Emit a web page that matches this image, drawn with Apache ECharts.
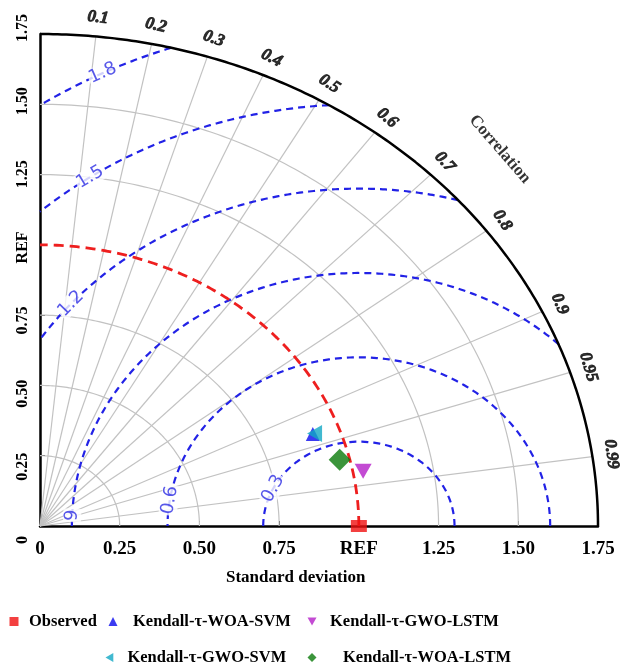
<!DOCTYPE html>
<html><head><meta charset="utf-8">
<script src="https://cdn.jsdelivr.net/npm/echarts@6/dist/echarts.min.js"></script>
<style>html,body{margin:0;padding:0;background:#fff}#c{width:626px;height:671px}</style>
</head><body><div id="c"></div>
<script>
// ---------------- data ----------------
const seriesNames = ['Observed', 'Kendall-τ-WOA-SVM', 'Kendall-τ-GWO-LSTM', 'Kendall-τ-GWO-SVM', 'Kendall-τ-WOA-LSTM'];
const stdValues  = [1.000, 0.916, 1.032, 0.922, 0.969];
const corrValues = [1.000, 0.934, 0.982, 0.934, 0.970];
const xTickLabels = ['0', '0.25', '0.50', '0.75', 'REF', '1.25', '1.50', '1.75'];
const yTickLabels = ['0', '0.25', '0.50', '0.75', 'REF', '1.25', '1.50', '1.75'];
const stdGridLevels = [0.25, 0.5, 0.75, 1.25, 1.5];
const refStd = 1.0;
const maxStd = 1.75;
const corrTicks = [0.1, 0.2, 0.3, 0.4, 0.5, 0.6, 0.7, 0.8, 0.9, 0.95, 0.99];
const corrTickLabels = ['0.1', '0.2', '0.3', '0.4', '0.5', '0.6', '0.7', '0.8', '0.9', '0.95', '0.99'];
const rmsLevels = [0.3, 0.6, 0.9, 1.2, 1.5, 1.8];
const rmsLabels = ['0.3', '0.6', '9', '1.2', '1.5', '1.8'];

// ---------------- style / layout ----------------
const G = {left: 40, top: 34, width: 558, height: 492};
const xPx = G.width / maxStd, yPx = G.height / maxStd;
const rmsLabelAngleDeg = [153.7, 171.2, 177.6, 138.8, 124.2, 116.5];
const corrLabelOffsetPx = 19;
const markerStyle = [
  {symbol: 'rect', size: [16, 12], color: '#f01010'},
  {symbol: 'triangle', size: 14, color: '#0a0aee'},
  {symbol: 'path://M0,0 L20,0 L10,17.3 Z', size: [17, 15], color: '#b41ec8'},
  {symbol: 'path://M0,10 L17.3,0 L17.3,20 Z', size: [15, 17], color: '#12a8c4'},
  {symbol: 'diamond', size: 22, color: '#0a7a0a'}
];
const legendPos = [
  {left: 9.5, top: 613, pad: 5.5},
  {left: 108.5, top: 613, pad: 10.5},
  {left: 307.5, top: 613, pad: 8.5},
  {left: 105.5, top: 649, pad: 8.5},
  {left: 307.5, top: 649, pad: 21.5}
];
const serif = 'Liberation Serif';

function arcPts(cx, cy, r, a0, a1, n) {
  const pts = [];
  for (let i = 0; i <= n; i++) {
    const a = a0 + (a1 - a0) * i / n;
    pts.push([cx + r * Math.cos(a), cy + r * Math.sin(a)]);
  }
  return pts;
}
function lineSeries(data, style, z) {
  return {type: 'line', data: data, showSymbol: false, symbol: 'none', silent: true,
    clip: false, lineStyle: style, z: z || 2, animation: false, xAxisIndex: 0, yAxisIndex: 0};
}

const series = [];
// std dev grid arcs
stdGridLevels.forEach(r => series.push(lineSeries(arcPts(0, 0, r, 0, Math.PI / 2, 120), {color: '#c2c2c2', width: 1.2}, 1)));
// correlation radial lines
corrTicks.forEach(c => {
  const s = Math.sqrt(1 - c * c);
  series.push(lineSeries([[0, 0], [maxStd * c, maxStd * s]], {color: '#c2c2c2', width: 1.2}, 1));
});
// RMS difference contours (centered on REF)
rmsLevels.forEach(rho => {
  let a0 = 0;
  if (refStd + rho > maxStd) {
    const xi = (maxStd * maxStd - rho * rho + refStd * refStd) / (2 * refStd);
    a0 = Math.acos((xi - refStd) / rho);
  }
  let a1 = Math.PI;
  if (rho > refStd) a1 = Math.acos(-refStd / rho);
  series.push(lineSeries(arcPts(refStd, 0, rho, a0, a1, 200), {color: '#2222e6', width: 2.2, type: [7, 5]}, 3));
});
// REF arc
series.push(lineSeries(arcPts(0, 0, refStd, 0, Math.PI / 2, 150), {color: '#ee1f1f', width: 2.8, type: [10, 6]}, 4));
// outer arc
series.push(lineSeries(arcPts(0, 0, maxStd, 0, Math.PI / 2, 200), {color: '#000', width: 2.5}, 5));

// RMS labels
series.push({
  type: 'scatter', silent: true, symbolSize: 0, z: 6, animation: false, clip: false,
  data: rmsLevels.map((rho, i) => {
    const a = rmsLabelAngleDeg[i] * Math.PI / 180;
    const rot = Math.atan2(-Math.cos(a) * yPx, Math.sin(a) * xPx) * 180 / Math.PI;
    return {value: [refStd + rho * Math.cos(a), rho * Math.sin(a)],
      label: {show: true, position: 'inside', formatter: rmsLabels[i], rotate: rot,
        color: '#2d2de4', fontSize: 18, fontFamily: 'DejaVu Sans', backgroundColor: '#fff', padding: [0, 1]}};
  })
});
// correlation labels + title
const corrLabelData = corrTicks.map((c, i) => {
  const s = Math.sqrt(1 - c * c);
  const px = maxStd * c * xPx, py = maxStd * s * yPx;
  const len = Math.hypot(px, py);
  const qx = px + corrLabelOffsetPx * px / len, qy = py + corrLabelOffsetPx * py / len;
  const rot = Math.atan2(py, px) * 180 / Math.PI - 90;
  return {value: [qx / xPx, qy / yPx], label: {show: true, position: 'inside', formatter: corrTickLabels[i], rotate: rot,
    fontStyle: 'italic', fontWeight: 700, fontSize: 17, fontFamily: serif, color: '#000',
    textBorderColor: '#000', textBorderWidth: 0.8}};
});
corrLabelData.push({value: [1.442, 1.340], label: {show: true, position: 'inside', formatter: 'Correlation', rotate: -49,
  fontWeight: 700, fontSize: 17, fontFamily: serif, color: '#000'}});
series.push({type: 'scatter', silent: true, symbolSize: 0, z: 6, animation: false, clip: false, data: corrLabelData});

// model markers
seriesNames.forEach((name, i) => {
  const m = markerStyle[i];
  const c = corrValues[i], s = stdValues[i];
  series.push({type: 'scatter', name: name, symbol: m.symbol, symbolSize: m.size,
    itemStyle: {color: m.color}, z: 8, clip: false, animation: false,
    data: [[s * c, s * Math.sqrt(1 - c * c)]]});
});

const legends = seriesNames.map((name, i) => ({
  data: [name], left: legendPos[i].left, top: legendPos[i].top,
  itemWidth: 9, itemHeight: 9,
  padding: 0, selectedMode: false,
  textStyle: {fontFamily: serif, fontWeight: 700, fontSize: 16.5, color: '#000', padding: [0, 0, 0, legendPos[i].pad]}
}));

const option = {
  backgroundColor: '#fff',
  animation: false,
  title: {text: 'Standard deviation', left: 226, top: 569, padding: 0,
    textStyle: {fontFamily: serif, fontWeight: 'bold', fontSize: 17, color: '#000'}},
  legend: legends,
  grid: [
    {left: G.left, top: G.top, width: G.width, height: G.height},
    {left: G.left, top: 28, width: G.width, height: 512}
  ],
  xAxis: [
    {type: 'value', gridIndex: 0, min: 0, max: maxStd, interval: 0.25,
      axisLine: {show: true, lineStyle: {color: '#000', width: 2.5}},
      axisTick: {show: true, inside: true, length: 5, lineStyle: {color: '#000', width: 1}}, splitLine: {show: false},
      axisLabel: {margin: 14, fontFamily: serif, fontWeight: 'bold', fontSize: 19, color: '#000',
        showMinLabel: true, showMaxLabel: true,
        formatter: v => xTickLabels[Math.round(v / 0.25)]}},
    {type: 'value', gridIndex: 1, min: 0, max: maxStd, show: false}
  ],
  yAxis: [
    {type: 'value', gridIndex: 0, min: 0, max: maxStd, interval: 0.25,
      axisLine: {show: true, lineStyle: {color: '#000', width: 2.5}},
      axisTick: {show: true, inside: true, length: 5, lineStyle: {color: '#000', width: 1}}, splitLine: {show: false},
      axisLabel: {show: false}},
    {type: 'value', gridIndex: 1, min: 0, max: maxStd, interval: 0.25,
      axisLine: {show: false}, axisTick: {show: false}, splitLine: {show: false},
      axisLabel: {margin: 9, rotate: 90, fontFamily: serif, fontWeight: 'bold', fontSize: 16, color: '#000',
        showMinLabel: true, showMaxLabel: true,
        formatter: v => yTickLabels[Math.round(v / 0.25)]}}
  ],
  series: series
};
echarts.init(document.getElementById('c'), null, {renderer: 'canvas'}).setOption(option);
</script></body></html>
